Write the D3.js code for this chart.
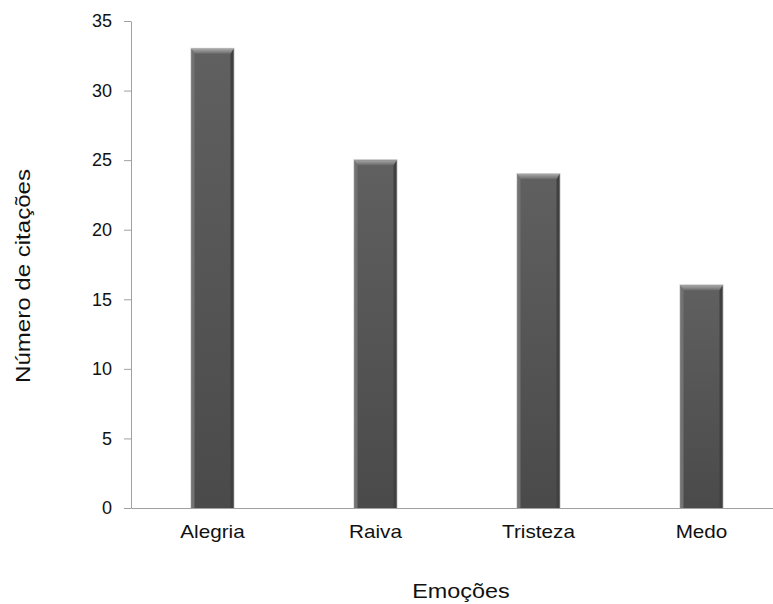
<!DOCTYPE html>
<html>
<head>
<meta charset="utf-8">
<script src="https://cdn.jsdelivr.net/npm/d3@7"></script>
<style>
  html, body { margin: 0; padding: 0; background: #fff; }
  svg { display: block; }
</style>
</head>
<body>
<svg id="chart" width="773" height="604"></svg>
<script>
// Emotion citations
const categories = ["Alegria", "Raiva", "Tristeza", "Medo"];
const values = [33, 25, 24, 16];
const yTicks = [0, 5, 10, 15, 20, 25, 30, 35];
const xTitle = "Emoções";
const yTitle = "Número de citações";

const svg = d3.select("#chart");
const plot = { left: 131, right: 783, top: 21, bottom: 508 };
const font = "Liberation Sans, Arial, sans-serif";

const x = d3.scaleBand().domain(categories).range([plot.left, plot.right]).paddingInner(0).paddingOuter(0);
const y = d3.scaleLinear().domain([0, 35]).range([plot.bottom, plot.top]);

// Gradients
const defs = svg.append("defs");
const bodyGrad = defs.append("linearGradient").attr("id", "barBody").attr("x1", 0).attr("y1", 0).attr("x2", 0).attr("y2", 1);
bodyGrad.append("stop").attr("offset", "0%").attr("stop-color", "#606060");
bodyGrad.append("stop").attr("offset", "100%").attr("stop-color", "#4a4a4a");
const bevelGrad = defs.append("linearGradient").attr("id", "bevelTop").attr("x1", 0).attr("y1", 0).attr("x2", 0).attr("y2", 1);
bevelGrad.append("stop").attr("offset", "0%").attr("stop-color", "#a8a8a8");
bevelGrad.append("stop").attr("offset", "100%").attr("stop-color", "#6a6a6a");

// Axes
const yAxis = d3.axisLeft(y).tickValues(yTicks).tickSize(7).tickPadding(12).tickSizeOuter(0);
const gy = svg.append("g").attr("transform", `translate(${plot.left},0)`).call(yAxis);
gy.select(".domain").attr("stroke", "#a0a0a0");
gy.selectAll(".tick line").attr("stroke", "#a0a0a0");
gy.selectAll(".tick text").attr("font-family", font).attr("font-size", 18).attr("fill", "#111");

const xAxis = d3.axisBottom(x).tickSize(0).tickPadding(17).tickSizeOuter(0);
const gx = svg.append("g").attr("transform", `translate(0,${plot.bottom})`).call(xAxis);
gx.select(".domain").attr("stroke", "#a0a0a0");
gx.selectAll(".tick text").attr("font-family", font).attr("font-size", 18).attr("fill", "#111")
  .attr("transform", "scale(1.15,1)");

// Bars with bevelled edges
const barW = 42;
const bars = svg.append("g").selectAll("g").data(categories).join("g");
bars.each(function(c, i) {
  const g = d3.select(this);
  const cx = x(c) + x.bandwidth() / 2;
  const x0 = cx - barW / 2, x1 = cx + barW / 2;
  const y0 = y(values[i]), y1 = y(0);
  const b = 5;
  g.append("rect").attr("x", x0 - 1).attr("y", y0 - 1).attr("width", barW + 2).attr("height", y1 - y0 + 1)
    .attr("fill", "#c8c8c8");
  g.append("rect").attr("x", x0).attr("y", y0).attr("width", barW).attr("height", y1 - y0)
    .attr("fill", "url(#barBody)");
  g.append("polygon").attr("points", `${x0},${y0} ${x0 + 3},${y0 + b} ${x0 + 3},${y1} ${x0},${y1}`).attr("fill", "#727272");
  g.append("polygon").attr("points", `${x1},${y0} ${x1 - 3},${y0 + b} ${x1 - 3},${y1} ${x1},${y1}`).attr("fill", "#404040");
  g.append("polygon").attr("points", `${x0},${y0} ${x1},${y0} ${x1 - 3},${y0 + b} ${x0 + 3},${y0 + b}`)
    .attr("fill", "url(#bevelTop)");
});

// Axis titles
svg.append("text").attr("transform", "translate(461,598) scale(1.17,1)").attr("text-anchor", "middle")
  .attr("font-family", font).attr("font-size", 20).attr("fill", "#111").text(xTitle);
svg.append("text").attr("transform", "translate(30,276) rotate(-90)").attr("text-anchor", "middle")
  .attr("font-family", font).attr("font-size", 20).attr("fill", "#111")
  .attr("textLength", 214).attr("lengthAdjust", "spacingAndGlyphs").text(yTitle);
</script>
</body>
</html>
